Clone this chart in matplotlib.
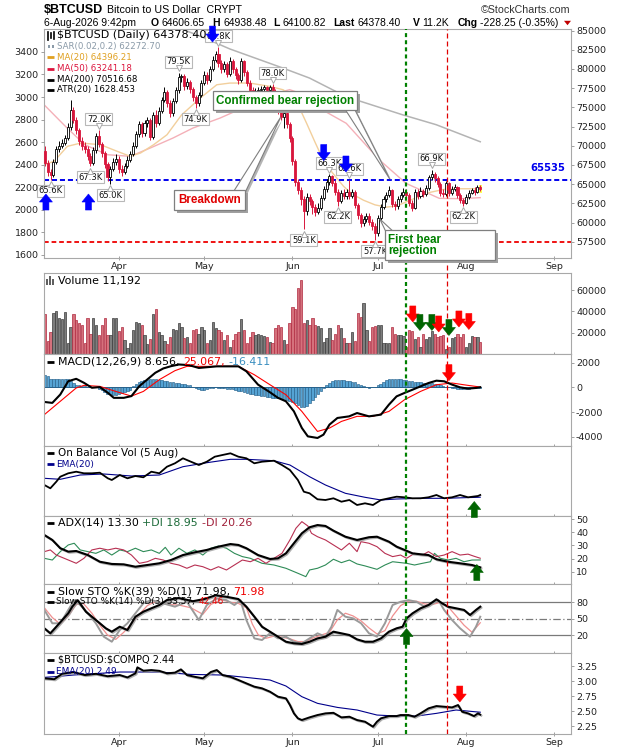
import numpy as np
import matplotlib
matplotlib.use("Agg")
import matplotlib.pyplot as plt
import matplotlib.ticker as mticker
import matplotlib.patheffects as pe
from matplotlib.patches import Polygon, Rectangle
from matplotlib.lines import Line2D
from matplotlib.transforms import offset_copy

plt.rcParams['axes.unicode_minus'] = False
plt.rcParams['font.family'] = 'DejaVu Sans'

W, H = 620, 750
LEFT, RIGHT = 43.5, 571.3
XLIM = (-0.5, 185.0)

# ---------------- data ----------------
# day 0 = 6 Mar, one candle per calendar day up to 6 Aug (day 153)
first_open = 69300
closes_k = [67.8, 66.6, 66.2, 67.9, 69.6, 70.0, 70.4, 71.0, 72.4, 74.6,
            73.4, 72.0, 70.6, 70.0, 69.6, 68.6, 67.8, 69.4, 71.3, 70.2,
            69.0, 67.6, 65.9, 67.0, 67.9, 68.3, 67.0, 66.6, 67.4, 68.2,
            68.9, 70.0, 71.5, 72.8, 71.6, 72.9, 73.3, 71.2, 74.0, 73.0,
            74.5, 76.0, 77.0, 75.6, 74.2, 75.8, 77.2, 78.9, 79.1, 77.8,
            78.3, 77.4, 76.3, 75.5, 76.6, 78.2, 79.2, 78.6, 80.0, 81.2,
            82.0, 80.8, 80.0, 80.6, 79.4, 81.0, 80.0, 79.2, 78.6, 81.0,
            79.6, 78.2, 77.3, 76.8, 77.0, 77.2, 77.4, 77.6, 77.2, 77.6,
            77.1, 76.0, 74.6, 73.8, 74.3, 72.8, 71.0, 68.0, 65.3, 64.2,
            63.0, 61.5, 63.3, 62.8, 62.0, 61.4, 61.9, 63.2, 64.3, 65.3,
            66.0, 65.2, 64.0, 62.8, 63.8, 63.4, 64.0, 63.5, 64.0, 62.3,
            61.0, 59.9, 60.4, 60.8, 60.1, 59.6, 58.6, 60.6, 62.0, 63.0,
            63.6, 64.2, 62.4, 62.1, 63.0, 63.6, 64.0, 63.6, 62.6, 61.9,
            64.0, 63.5, 64.1, 63.7, 64.5, 65.9, 66.3, 65.8, 65.0, 63.9,
            63.7, 65.1, 63.9, 64.4, 64.6, 63.6, 62.9, 62.6, 63.3, 63.9,
            64.2, 64.0, 64.60665, 64.3784]
highs_k = [70.0, 68.2, 67.0, 68.3, 70.0, 70.6, 70.9, 71.4, 72.9, 76.0,
           75.1, 73.8, 72.3, 71.1, 70.5, 70.0, 69.0, 69.8, 71.6, 72.0,
           70.5, 69.3, 67.9, 67.4, 68.4, 68.9, 68.6, 67.5, 67.8, 68.7,
           69.3, 70.5, 71.9, 73.2, 73.1, 73.3, 73.8, 73.6, 74.4, 74.6,
           75.0, 76.4, 77.6, 77.3, 75.9, 76.2, 77.7, 79.5, 79.4, 79.3,
           78.8, 78.6, 77.7, 76.6, 77.0, 78.6, 79.7, 79.6, 80.4, 81.7,
           82.4, 82.8, 81.2, 81.0, 80.9, 81.6, 81.3, 80.3, 79.5, 81.4,
           81.2, 79.9, 78.5, 77.6, 77.5, 77.7, 77.8, 77.9, 77.8, 77.9,
           78.0, 77.4, 76.3, 75.0, 74.8, 74.6, 73.1, 71.3, 68.3, 65.7,
           64.6, 63.4, 63.8, 63.7, 63.1, 62.4, 62.5, 63.6, 64.7, 65.7,
           66.3, 66.2, 65.5, 64.3, 64.2, 64.3, 64.4, 65.6, 64.4, 64.2,
           62.6, 61.3, 60.9, 61.3, 61.2, 60.5, 60.0, 61.0, 62.4, 63.4,
           64.0, 64.7, 64.4, 62.8, 63.4, 64.0, 64.5, 64.4, 63.9, 62.9,
           64.4, 64.3, 64.6, 64.4, 64.9, 66.2, 66.9, 66.6, 66.1, 65.3,
           64.3, 65.4, 65.3, 64.8, 65.0, 64.8, 63.9, 63.2, 63.7, 64.2,
           64.5, 64.6, 64.9, 64.93848]
lows_k = [67.4, 66.0, 65.6, 65.9, 67.6, 69.2, 69.7, 70.1, 70.7, 72.1,
          72.9, 71.5, 70.1, 69.5, 69.0, 68.1, 67.3, 67.5, 69.1, 69.8,
          68.5, 67.1, 65.4, 65.0, 66.7, 67.5, 66.5, 66.1, 66.3, 67.1,
          67.9, 68.6, 69.7, 71.2, 71.1, 71.3, 72.5, 70.8, 70.9, 72.5,
          72.7, 74.2, 75.7, 75.1, 73.8, 73.9, 75.5, 76.9, 78.3, 77.3,
          77.4, 76.9, 75.8, 74.9, 75.2, 76.3, 77.9, 78.1, 78.3, 79.7,
          80.9, 80.3, 79.5, 79.6, 78.9, 79.1, 79.5, 78.7, 78.0, 78.3,
          79.1, 77.8, 76.8, 76.3, 76.5, 76.7, 76.9, 77.0, 76.8, 76.9,
          76.6, 75.5, 74.1, 73.3, 72.3, 72.3, 70.5, 67.5, 64.8, 63.7,
          62.3, 59.1, 61.0, 62.3, 61.1, 60.9, 61.1, 61.6, 62.9, 64.0,
          64.9, 64.8, 63.6, 62.2, 62.5, 63.0, 63.1, 63.1, 63.2, 61.9,
          60.5, 59.4, 59.6, 60.1, 59.7, 59.0, 57.7, 58.3, 60.3, 61.7,
          62.7, 63.3, 62.0, 61.6, 61.8, 62.7, 63.3, 63.2, 62.2, 61.5,
          61.7, 63.0, 63.2, 63.3, 63.4, 64.2, 65.6, 65.3, 64.6, 63.5,
          63.3, 63.5, 63.5, 63.6, 64.1, 63.2, 62.5, 62.2, 62.4, 63.0,
          63.7, 63.6, 63.8, 64.10082]
volumes = [37270, 12200, 20500, 38100, 40300, 34100, 32800, 39700, 10000, 25700,
           37300, 31900, 28800, 27200, 10000, 34100, 18500, 33500, 27200, 17800,
           27500, 33500, 17800, 17800, 33500, 33500, 21600, 25700, 13000, 6000,
           10000, 22500, 30400, 28800, 27200, 17800, 9000, 14000, 37300, 42000,
           20500, 17800, 12200, 9000, 16000, 23400, 22500, 28800, 25700, 14700,
           16000, 10000, 22500, 23400, 18500, 25700, 22500, 10000, 13000, 29700,
           24100, 22500, 20500, 13000, 17800, 6300, 13000, 19200, 20500, 32800,
           22500, 10000, 16000, 20500, 17800, 18500, 17800, 16900, 16000, 11000,
           10000, 24800, 27200, 25700, 13000, 9000, 28800, 44300, 42000, 62300,
           69500, 28800, 31900, 27500, 33500, 27500, 26300, 24800, 11600, 14700,
           24100, 13000, 19200, 27200, 24100, 14700, 10000, 10000, 20500, 12200,
           38100, 35000, 47600, 22500, 12200, 25700, 26300, 27500, 26900, 10000,
           10000, 10600, 25700, 19200, 17800, 17800, 16900, 6300, 22500, 21600,
           14000, 16000, 6300, 18500, 14000, 16000, 21600, 18500, 16000, 16900,
           17800, 5000, 6300, 15000, 16000, 18500, 16000, 19200, 6300, 10000,
           16900, 16000, 16000, 11192]
macd_hist = [1020, 950, 700, 650, 680, 700, 700, 690, 650, 500, 350,
             200, 150, 100, 80, 60, 40, 20, 0,
             -100, -250, -400, -500, -560, -600, -580, -520, -450, -380, -300, -200,
             100, 250, 400, 500, 580, 620, 640, 650, 640, 600, 560, 520, 480, 440, 400, 360,
             320, 280, 250, 200, 150,
             50, -50, -150, -200, -180, -120, -60, -20, 0, -30, -60, -80, -100, -120, -150,
             -200, -260, -320, -380, -440, -500, -560, -600, -640, -680, -720, -760, -800,
             -840, -870, -900, -950, -1000, -1050, -1100, -1200, -1300, -1450, -1580, -1620,
             -1500, -1250, -1000, -800, -550, -300, -80,
             150, 350, 500, 600, 620, 600, 560, 520, 480, 450, 400, 300, 200,
             100, 30, -20, 0, 50,
             150, 300, 450, 580, 650, 680, 680, 660, 640, 600, 560, 520, 480, 440,
             420, 400, 380, 380, 360, 340, 300, 250, 200,
             120, 60, 0, -50, -80, -100, -120, -130, -130, -110, -80, -50, -30, -16]

macd_days = [-0.2, 2.6, 5.4, 8.2, 11.0, 13.7, 16.5, 19.3, 22.1, 24.2, 27.7, 30.4, 33.2,
             36.0, 38.8, 41.6, 44.4, 47.1, 50.6, 54.1, 60.4, 68.0, 70.8, 74.9, 79.1,
             81.9, 84.7, 87.5, 90.3, 92.4, 95.8, 97.9, 100.0, 102.8, 106.9, 109.7,
             113.9, 118.1, 120.9, 123.6, 126.4, 129.2, 132.0, 134.8, 137.6, 140.3,
             143.1, 145.9, 148.7, 151.5, 153.0]
macd_vals = [-1183, -1260, -580, 500, 690, 370, -35, 20, -440, -850, -850, -710, 100,
             640, 1180, 1530, 1720, 1850, 1800, 1570, 1700, 1700, 1300, 220, -400,
             -850, -1130, -1940, -3290, -3970, -4100, -3830, -3020, -2480, -2350, -2080,
             -2350, -2210, -1400, -730, -450, -190, 80, 350, 540, 490,
             220, 0, -105, -50, 8.656]
signal_days = [-0.2, 5.4, 11.0, 13.7, 19.3, 24.9, 30.4, 34.6, 40.2, 45.7, 49.9, 68.0,
               73.6, 79.1, 84.7, 90.3, 95.8, 100.0, 104.2, 109.7, 115.3, 120.9, 126.4,
               132.0, 137.6, 143.1, 148.7, 153.0]
signal_vals = [-2210, -1130, -50, 160, 80, -330, -710, -330, 620, 1350, 1700, 1700,
               1020, 210, -600, -1950, -3570, -3300, -2760, -2350, -2350, -1950, -1000,
               -330, 210, 350, 160, 25.067]

ma20_days = [-0.3, 3.2, 7.9, 12.6, 19.6, 25.4, 30, 33.6, 38.2, 42.9, 48, 54.6, 60.4, 65,
             72, 79, 83.7, 86, 89, 92, 95, 98, 101, 105, 108, 112, 116, 120, 124, 127,
             131, 135, 140, 146, 153]
ma20_vals = [67530, 67970, 69920, 70350, 70130, 69270, 68620, 69050, 70130, 71430, 74000,
             76210, 77940, 78160, 78160, 77730, 77290, 76700, 75300, 72900, 70400, 68000,
             66500, 64700, 63700, 62900, 62300, 62000, 62200, 62700, 63300, 63900, 64300,
             64400, 64396]
ma50_days = [-0.3, 7, 14, 22, 30, 37, 45, 52, 61.6, 67, 75, 81, 86, 90, 97.6, 105.9,
             117.6, 126.9, 138.6, 146, 153]
ma50_vals = [75340, 72600, 70130, 68830, 68620, 69700, 71000, 72300, 73610, 74500, 75800,
             76800, 77300, 76800, 74650, 72920, 68140, 65100, 63150, 63100, 63241]
ma200_days = [47, 55, 65, 83, 93, 105.9, 125.6, 137.5, 153]
ma200_vals = [85350, 84200, 82600, 80200, 78810, 76380, 74040, 72740, 70517]

obv_days = [-0.2, 1.9, 4.0, 5.4, 8.2, 11.0, 13.7, 16.5, 19.3, 22.1, 23.5, 26.3, 29.0,
            31.8, 34.6, 37.4, 40.2, 42.9, 45.7, 48.5, 51.3, 54.1, 56.9, 59.7, 62.4,
            65.2, 68.0, 70.8, 73.6, 76.3, 80.5, 83.3, 86.1, 88.9, 91.0, 93.0, 95.8,
            98.6, 101.4, 104.2, 107.0, 109.7, 112.5, 115.3, 118.1, 120.9, 123.6, 126.4,
            129.2, 132.0, 134.8, 137.6, 140.3, 143.1, 145.9, 148.7, 152.2, 153.0]
obv_vals = [31, 27.7, 34.3, 39.3, 42.7, 44.3, 42.7, 42.7, 43.3, 37.7, 36, 41, 37.7,
            40, 38.7, 44.3, 42.7, 49.3, 52.7, 57.7, 54.3, 51, 54.3, 59.3, 61,
            62.7, 59.3, 57.7, 52.7, 54.3, 55.3, 51, 46, 36, 24.3, 22.7, 16.7,
            16, 17.7, 14.3, 16, 11, 12.7, 11, 16, 17.7, 19.3, 18.7,
            17.7, 17.7, 18.7, 21, 17.7, 18.7, 21, 18.7, 20, 21]
obv_ema_days = [-0.2, 5.4, 12.4, 20.7, 30.4, 40.2, 48.5, 56.9, 65.2, 70.8, 80.5, 86.1,
                93.0, 98.6, 105.6, 112.5, 118.1, 123.6, 132.0, 140.3, 152.2, 153.0]
obv_ema_vals = [37.7, 36.7, 41, 42, 40, 41, 49.3, 53.3, 56.7, 56.7, 55.3, 51,
                39.3, 31, 22.7, 18.7, 16, 17, 17.7, 17.7, 18.7, 18.8]

adx_days = [-0.2, 2.6, 5.4, 8.2, 11, 15.1, 19.3, 23.5, 27.7, 31.8, 36, 40.2, 44.3, 48.5,
            52.7, 56.9, 61, 65.2, 68, 70.8, 74.9, 79.1, 81.9, 84.7, 87.5, 90.3, 93,
            95.8, 98.6, 101.4, 105.6, 109.7, 113.9, 116.7, 120.9, 123.6, 126.4, 129.2,
            132, 134.8, 137.6, 141.7, 145.9, 150.1, 153]
adx_vals = [38, 34.2, 27.9, 25.3, 25.8, 22.7, 17.6, 15.9, 15.6, 13.8, 15.1, 16.4, 18.9,
            22.7, 24.8, 26.6, 29.1, 31.1, 30.4, 27.9, 22.7, 19.7, 20.2, 24, 31.7, 39.3,
            43.9, 45.6, 44.9, 41.3, 36.7, 34.2, 36.3, 36.7, 32.9, 29.1, 26.6, 24,
            23.3, 22.7, 19.5, 17.6, 16.4, 15.1, 13.3]
pdi_days = [-0.2, 2.6, 5.4, 8.2, 10.3, 12.4, 15.1, 17.9, 20.7, 23.5, 26.3, 29, 31.8,
            34.6, 37.4, 40.2, 42.3, 44.3, 47.1, 49.9, 52.7, 55.5, 58.3, 61, 63.8, 66.6,
            69.4, 72.2, 76.3, 80.5, 84.7, 88.9, 91.7, 93, 95.8, 98.6, 101.4, 104.2, 107,
            109.7, 112.5, 116.7, 119.5, 122.2, 125, 127.1, 129.9, 132.7, 135.5, 136.9,
            139, 141.7, 144.5, 147.3, 150.1, 153]
pdi_vals = [20.2, 18.9, 25.3, 30.4, 31.7, 26.6, 25.3, 24, 26.6, 22.7, 26.6, 25.3, 27.9,
            25.3, 26.6, 24, 28.6, 22.7, 27.9, 24, 26.6, 22.7, 27.9, 29.6, 27.9, 24,
            21.5, 20.2, 16.4, 15.1, 12.6, 8.8, 6.2, 11.3, 12.6, 15.1, 19.5, 16.9, 18.9,
            15.9, 14.4, 11.8, 15.1, 17.6, 16.9, 16.4, 15.1, 16.4, 17.6, 24,
            20.2, 18.9, 20.2, 17.6, 18.9, 18.95]
mdi_days = [-0.2, 1.9, 4, 6.8, 11, 13.7, 16.5, 19.3, 22.1, 24.9, 27.7, 30.4, 33.2, 36,
            38.8, 41.6, 44.3, 47.1, 49.9, 52.7, 55.5, 58.3, 61, 63.8, 66.6, 69.4, 72.2,
            74.9, 77.7, 80.5, 83.3, 86.1, 88.2, 90.3, 92.4, 93.7, 95.8, 98.6, 101.4,
            104.2, 107, 109.7, 111.1, 113.9, 116.7, 119.5, 122.2, 125, 127.1, 129.9,
            132.7, 134.8, 137.6, 140.3, 143.1, 145.9, 148.7, 150.8, 153]
mdi_vals = [25.3, 26.6, 22.7, 20.2, 16.4, 20.2, 26.6, 27.9, 26.6, 27.9, 26.6, 22.7, 16.4,
            17.6, 20.2, 18.9, 16.4, 15.1, 12.6, 15.1, 13.8, 11.3, 13.8, 11.3, 15.1, 18.9,
            17.6, 20.2, 16.4, 20.2, 24, 34.2, 43.1, 48.2, 44.9, 39.3, 36.7, 34.2, 30.4,
            26.6, 31.7, 25.3, 32.9, 31.7, 29.1, 24, 21.5, 22.7, 20.2, 24,
            22.7, 25.3, 21.5, 22.7, 25.3, 22.7, 23.4, 21.8, 20.26]

sto39_days = [-0.2, 1.9, 4, 6.1, 8.2, 9.6, 11.5, 14.4, 16.5, 19.3, 21.4, 23.5, 26.3, 29,
              31.8, 34.6, 37.4, 40.2, 42.9, 47, 52, 56, 60, 64, 68, 70.8, 73.6, 76.3,
              79.1, 81.9, 84.7, 87.5, 90.3, 93, 95.8, 98.6, 101.4, 104.2, 107, 109.7,
              112.5, 115.3, 118.1, 120.9, 123.6, 125.7, 127.1, 129.2, 132, 134.8, 137.6,
              139.6, 141.7, 144.5, 147.3, 149.4, 151.5, 153]
sto39_vals = [32.3, 23.1, 35.2, 47.5, 59.8, 71.9, 84, 62.8, 53.6, 41.5, 32.3, 26.1, 35.2,
              29.2, 53.6, 62.8, 69, 75, 84.2, 88, 82, 86, 93, 90, 86, 71.9, 53.6, 35.2,
              26.1, 16.9, 7.7, 4.8, 3.6, 7.7, 13.8, 16.9, 26.1, 23.1, 20, 12,
              7.7, 7.7, 13.8, 26.1, 32.3, 35.2, 50.6, 59.8, 69, 75, 85.5,
              78.2, 71.9, 69, 66, 56.7, 66, 71.98]
sto14_days = [-0.2, 2.6, 5.4, 8.2, 10.3, 12.4, 15.1, 17.9, 20.7, 23.5, 26.3, 29, 31.8,
              34.6, 37.4, 41.6, 45.7, 49.9, 54.1, 56.9, 60.4, 63.8, 66.6, 68.7, 70.8,
              73.6, 76.3, 79.1, 81.9, 84.7, 87.5, 90.3, 93, 95.8, 98.6, 100.7, 102.8,
              105.6, 108.3, 111.1, 113.9, 116.7, 119.5, 122.2, 125, 127.8, 130.6, 133.4,
              136.2, 138.3, 140.3, 143.1, 145.9, 149.4, 151.5, 153]
sto14_vals = [66, 41.5, 41.5, 66, 84, 75, 59.8, 41.5, 16.9, 7.7, 29.2, 41.5, 59.8,
              78.2, 84.2, 78, 72, 81, 47.5, 75, 87, 84, 75, 84, 47.5,
              13.8, 10.8, 23.1, 13.8, 16.9, 7.7, 4.8, 13.8, 23.1, 16.9, 35.2, 66,
              53.6, 50.6, 41.5, 23.1, 16.9, 41.5, 75, 81, 84, 81, 72,
              78, 84, 66, 47.5, 32.3, 16.9, 35.2, 53.57]
sto14d_days = [-0.2, 2.6, 5.4, 8.2, 11, 13.5, 16.5, 19.3, 22, 24.9, 27.7, 30.4, 33.2, 36,
               39, 43, 47.1, 51.3, 55.5, 58.3, 62, 65.2, 68, 70.8, 72.9, 75, 77.7, 80.5,
               83.3, 86.1, 88.9, 91.7, 94.4, 97.2, 100, 102.8, 105.6, 108.3, 111.1,
               113.9, 116.7, 119.5, 122.2, 125, 127.8, 130.6, 133.4, 136.2, 139, 141.7,
               144.5, 147.3, 150.1, 153]
sto14d_vals = [70, 52, 40, 55, 76, 78, 60, 38, 20, 12, 25, 40, 58, 74,
               82, 76, 75, 70, 58, 76, 85, 80, 78, 70, 40, 20, 14, 18,
               16, 13, 8, 8, 15, 20, 25, 48, 60, 55, 46,
               33, 22, 28, 55, 74, 82, 82, 77, 76, 80, 72,
               55, 38, 25, 42.46]

ratio_days = [-0.2, 3.3, 6, 10, 14, 18, 22, 26.3, 29, 31.8, 32.5, 34.6, 37.4, 40.2, 42.9,
              45.7, 47.8, 49.9, 52.7, 55.5, 58.3, 60.4, 62.4, 65.2, 68, 70.8, 73.6, 76.3,
              79.1, 81.9, 84.7, 86.1, 87.5, 88.9, 90.3, 93, 95.8, 98.6, 101.4, 104.2, 107,
              109.7, 112.5, 115.3, 116.7, 118.1, 120.9, 123.6, 125, 127.8, 129.9, 132,
              134.8, 137.6, 140.3, 143.1, 145.2, 146.6, 148.7, 150.8, 152.2, 153]
ratio_vals = [3.045, 3.03, 3.12, 3.15, 3.10, 3.12, 3.08, 3.10, 3.06, 3.128, 3.228, 3.172,
              3.183, 3.17, 3.128, 3.14, 3.194, 3.10, 3.07, 3.045, 3.15, 3.183, 3.10, 3.07,
              3.017, 2.961, 2.906, 2.878, 2.822, 2.739, 2.711, 2.60, 2.461, 2.378, 2.35,
              2.394, 2.433, 2.461, 2.47, 2.394, 2.405, 2.35, 2.322, 2.239, 2.322, 2.378,
              2.416, 2.416, 2.433, 2.433, 2.405, 2.461, 2.544, 2.583, 2.572, 2.56, 2.60,
              2.489, 2.461, 2.416, 2.461, 2.44]
ratio_ema_days = [-0.2, 3.3, 10, 20, 26.3, 40.2, 51.3, 62.4, 70.8, 79.1, 84.7, 90.3, 95.8,
                  102.8, 109.7, 116.7, 123.6, 130.6, 137.6, 144.5, 153]
ratio_ema_vals = [3.061, 3.072, 3.10, 3.13, 3.15, 3.15, 3.11, 3.10, 3.06, 3.017, 2.917,
                  2.739, 2.628, 2.56, 2.517, 2.433, 2.416, 2.416, 2.461, 2.517, 2.48]

month_days = [26, 56, 87, 117, 148, 179]
month_names = ['Apr', 'May', 'Jun', 'Jul', 'Aug', 'Sep']
resistance = 65535
support = 57500
green_day, red_day = 126.8, 141.2
high_label_days = [19, 47, 61, 80, 100, 107, 136]
low_label_days = [2, 16, 23, 53, 91, 103, 116, 147]

RED = '#d8163c'

closes = np.array(closes_k) * 1000
highs = np.array(highs_k) * 1000
lows = np.array(lows_k) * 1000
opens = np.r_[first_open, closes[:-1]]
days = np.arange(len(closes))
up = closes >= opens

fig = plt.figure(figsize=(W / 100, H / 100), dpi=100)
fig.patch.set_facecolor('white')


def fig_xy(x, y):
    return x / W, 1 - y / H


def style_y(axis_obj):
    axis_obj.tick_params(axis='y', length=2.2, width=0.6, color='#909090', labelsize=6.8,
                         labelcolor='#222222', pad=1.2)


def panel(top, bottom, labels=False):
    ax = fig.add_axes([LEFT / W, 1 - bottom / H, (RIGHT - LEFT) / W, (bottom - top) / H])
    ax.set_xlim(*XLIM)
    for s in ax.spines.values():
        s.set_color('#a8a8a8')
        s.set_linewidth(0.8)
    ax.yaxis.tick_right()
    style_y(ax)
    ax.set_xticks(month_days)
    ax.tick_params(axis='x', length=2.2, width=0.6, direction='inout', color='#909090',
                   labelsize=6.8, labelcolor='#222222', pad=1.5)
    ax.set_xticklabels(month_names if labels else [])
    return ax


def px(ax, d, v):
    x, y = ax.transData.transform((d, v))
    return x, H - y


def poly(points, **kw):
    p = Polygon([fig_xy(x, y) for x, y in points], closed=True,
                transform=fig.transFigure, **kw)
    fig.add_artist(p)


def block_arrow(ax, d, v, up_dir, color):
    cx, cy = px(ax, d, v)
    w, L, sw, hl = 13, 16, 6, 8
    s = -1 if up_dir else 1
    tip = cy + s * L / 2
    base = tip - s * hl
    tail = cy - s * L / 2
    pts = [(cx, tip), (cx + w / 2, base), (cx + sw / 2, base), (cx + sw / 2, tail),
           (cx - sw / 2, tail), (cx - sw / 2, base), (cx - w / 2, base)]
    poly(pts, facecolor=color, edgecolor=color, lw=0.4, zorder=6)


renderer = fig.canvas.get_renderer()


def text_width(s, size, family, weight):
    t = fig.text(0, 0, s, fontsize=size, family=family, fontweight=weight)
    w = t.get_window_extent(renderer=renderer).width
    t.remove()
    return w


def rich_text(x, y, parts, size=6.8, family='DejaVu Sans'):
    sp = text_width('a a', size, family, 'normal') - text_width('aa', size, family, 'normal')
    for txt, col, wt in parts:
        core = txt.rstrip(' ')
        t = fig.text(x / W, 1 - y / H, core, color=col, fontsize=size, fontweight=wt,
                     family=family, va='center', ha='left', zorder=7)
        x += t.get_window_extent(renderer=renderer).width + sp * (len(txt) - len(core))


def legend_icon(y, color, x0=46.5, x1=53.5, lw=2.0):
    fig.add_artist(Line2D([x0 / W, x1 / W], [1 - y / H, 1 - y / H], color=color, lw=lw,
                          transform=fig.transFigure, solid_capstyle='butt'))


def shadow():
    return [pe.SimpleLineShadow(offset=(0.8, -0.8), shadow_color='#9a9a9a', alpha=0.8),
            pe.Normal()]


# ---------------- price panel ----------------
ax = panel(29, 258, labels=True)
axl = ax.twinx()
ax.yaxis.tick_right()
ax.yaxis.set_label_position('right')
style_y(ax)
ax.set_ylim(55380, 85200)
ax.set_yticks(range(57500, 85001, 2500))
ax.yaxis.set_major_formatter(mticker.FuncFormatter(lambda v, p: f"{v:.0f}"))
axl.yaxis.tick_left()
axl.set_ylim(1573, 3603)
axl.set_yticks(range(1600, 3401, 200))
style_y(axl)
for s in axl.spines.values():
    s.set_visible(False)

ax.plot(ma200_days, ma200_vals, color='#b4b4b4', lw=1.1, zorder=2)
ax.plot(ma50_days, ma50_vals, color='#f4b0b8', lw=1.0, zorder=2)
ax.plot(ma20_days, ma20_vals, color='#f2cf9c', lw=1.0, zorder=2)
ax.axhline(resistance, color='#0000ee', lw=1.4, ls=(0, (2.6, 1.5)), zorder=2.2)
ax.axhline(support, color='#ee0000', lw=1.3, ls=(0, (2.6, 1.6)), zorder=2.2)
ax.add_patch(Rectangle((days[-1] - 0.6, 63840), 1.2, 1080, facecolor='#ffff55',
                       edgecolor='none', zorder=2.4))

edge = np.where(up, 'black', RED)
fill = np.where(up, 'white', RED)
ax.vlines(days, lows, highs, colors=edge, lw=0.7, zorder=2.6)
ax.bar(days, np.maximum(np.abs(closes - opens), 60), bottom=np.minimum(opens, closes),
       width=0.72, color=fill, edgecolor=edge, linewidth=0.6, zorder=3)

ax.text(176.7, resistance + 1600, str(resistance), color='#0000ee', fontsize=7.2,
        fontweight='bold', ha='center', va='center')


def price_label(d, v, above):
    off = 11 if above else -11
    ax.annotate(f"{v / 1000:.1f}K", xy=(d, v), xytext=(0, off), textcoords='offset pixels',
                ha='center', va='center', fontsize=6.0, color='#111111', zorder=4,
                annotation_clip=False,
                bbox=dict(boxstyle='square,pad=0.18', fc='white', ec='#b8b8b8', lw=0.8))
    tr = offset_copy(ax.transData, fig=fig, x=0, y=(4.3 if above else -4.3), units='dots')
    ax.plot([d], [v], marker='v' if above else '^', ms=4.5, mfc='white', mec='#a8a8a8',
            mew=0.7, transform=tr, clip_on=False, zorder=4)


for d in high_label_days:
    price_label(d, highs[d], True)
for d in low_label_days:
    price_label(d, lows[d], False)

# ---------------- volume ----------------
axv = panel(273, 354)
axv.set_ylim(0, 76000)
axv.set_yticks([20000, 40000, 60000])
axv.bar(days, volumes, width=0.8, color=np.where(up, '#7d7d7d', '#d5717c'),
        edgecolor=np.where(up, '#3c3c3c', '#b02a40'), linewidth=0.5)

# ---------------- MACD ----------------
axm = panel(354, 446)
axm.set_ylim(-4750, 2700)
axm.set_yticks([-4000, -2000, 0, 2000])
axm.bar(days, macd_hist, width=0.85, color='#55a3d4', edgecolor='#27628c', linewidth=0.45)
axm.hlines(0, days[0] - 0.4, days[-1] + 0.4, color='#27628c', lw=0.7)
axm.plot(signal_days, signal_vals, color='#ff0000', lw=0.8)
axm.plot(macd_days, macd_vals, color='black', lw=1.5)

# ---------------- OBV ----------------
axo = panel(446, 516)
axo.set_ylim(0, 70)
axo.set_yticks([])
axo.plot(obv_ema_days, obv_ema_vals, color='#00008b', lw=0.8)
axo.plot(obv_days, obv_vals, color='black', lw=1.3)

# ---------------- ADX ----------------
axa = panel(516, 584)
axa.set_ylim(0.6, 52.5)
axa.set_yticks([10, 20, 30, 40, 50])
axa.plot(pdi_days, pdi_vals, color='#2e8b57', lw=0.8)
axa.plot(mdi_days, mdi_vals, color='#b83052', lw=0.8)
axa.plot(adx_days, adx_vals, color='black', lw=1.5, path_effects=shadow())

# ---------------- stochastics ----------------
axs = panel(584, 653)
axs.set_ylim(-13, 113.6)
axs.set_yticks([20, 50, 80])
axs.axhline(80, color='#7a7a7a', lw=0.9)
axs.axhline(20, color='#7a7a7a', lw=0.9)
axs.axhline(50, color='#7a7a7a', lw=0.9, ls=(0, (6, 2, 1, 2)))
axs.plot(sto14d_days, sto14d_vals, color='#f09090', lw=0.9)
axs.plot(sto14_days, sto14_vals, color='#9a9a9a', lw=1.4)
axs.plot(sto39_days, sto39_vals, color='black', lw=1.5, path_effects=shadow())

# ---------------- BTC:COMPQ ----------------
axc = panel(653, 734, labels=True)
axc.set_ylim(2.117, 3.467)
axc.set_yticks([2.25, 2.5, 2.75, 3.0, 3.25])
axc.yaxis.set_major_formatter(mticker.FuncFormatter(lambda v, p: f"{v:.2f}"))
axc.plot(ratio_ema_days, ratio_ema_vals, color='#00008b', lw=0.8)
axc.plot(ratio_days, ratio_vals, color='black', lw=1.4, path_effects=shadow())

# ---------------- vertical marker lines ----------------
ov = fig.add_axes([LEFT / W, 1 - 734 / H, (RIGHT - LEFT) / W, (734 - 29) / H])
ov.set_xlim(*XLIM)
ov.set_ylim(0, 1)
ov.axis('off')
ov.patch.set_visible(False)
ov.axvline(green_day, color='#008000', lw=1.6, ls=(0, (1.8, 1.4)))
ov.axvline(red_day, color='#e00000', lw=0.9, ls=(0, (4, 2.4)))

# ---------------- arrows ----------------
for d, v in [(0.35, 62670), (15.3, 62670)]:
    block_arrow(ax, d, v, True, '#0000ff')
for d, v in [(58.9, 84540), (98.0, 69115), (105.8, 67620)]:
    block_arrow(ax, d, v, False, '#0000ff')
for d, v, c in [(129.3, 37560, '#ff0000'), (131.8, 29580, '#006400'),
                (136.0, 29580, '#006400'), (138.4, 28170, '#ff0000'),
                (142.0, 24880, '#006400'), (145.5, 32860, '#ff0000'),
                (149.0, 30520, '#ff0000')]:
    block_arrow(axv, d, v, False, c)
block_arrow(axm, 142.0, 1190, False, '#ff0000')
block_arrow(axo, 150.9, 6.5, True, '#006400')
block_arrow(axa, 151.8, 9.4, True, '#006400')
block_arrow(axs, 127.1, 17.2, True, '#006400')
block_arrow(axc, 145.8, 2.783, False, '#ff0000')


# ---------------- callouts ----------------
def callout(x0, y0, x1, y1, base, apex):
    bx = [(x + 2, y + 2) for x, y in base + [apex]]
    poly(bx, facecolor='#b4b4b4', edgecolor='none', zorder=4)
    fig.add_artist(Rectangle(fig_xy(x0 + 3, y1 + 3), (x1 - x0) / W, (y1 - y0) / H,
                             transform=fig.transFigure, facecolor='#a0a0a0',
                             edgecolor='none', zorder=4.2))
    poly(base + [apex], facecolor='white', edgecolor='#7f7f7f', lw=0.8, zorder=4.5)
    fig.add_artist(Rectangle(fig_xy(x0, y1), (x1 - x0) / W, (y1 - y0) / H,
                             transform=fig.transFigure, facecolor='white',
                             edgecolor='#7f7f7f', lw=0.9, zorder=5))


ANN = 'Liberation Sans'
callout(212.7, 91.3, 356.7, 109.7, [(343, 106), (353, 106)], px(ax, 121.2, 65665))
fig.text(*fig_xy(284.7, 100.8), 'Confirmed bear rejection', color='#008000', fontsize=8.4,
         fontweight='bold', family=ANN, ha='center', va='center', zorder=7)
callout(174, 190, 244.5, 210, [(232, 194), (243, 197)], px(ax, 82.9, 73740))
fig.text(*fig_xy(209.2, 200.3), 'Breakdown', color='#e00000', fontsize=8.4,
         fontweight='bold', family=ANN, ha='center', va='center', zorder=7)
callout(385, 229.7, 495, 260, [(387, 234), (396, 234)], px(ax, 117.7, 60457))
fig.text(*fig_xy(388, 240.0), 'First bear', color='#008000', fontsize=8.4,
         fontweight='bold', family=ANN, ha='left', va='center', zorder=7)
fig.text(*fig_xy(388, 251.5), 'rejection', color='#008000', fontsize=8.4,
         fontweight='bold', family=ANN, ha='left', va='center', zorder=7)

# ---------------- header ----------------
fig.text(*fig_xy(43.5, 9.8), '$BTCUSD', fontsize=9.0, fontweight='bold', family=ANN,
         va='center', ha='left')
fig.text(*fig_xy(107, 9.8), 'Bitcoin to US Dollar  CRYPT', fontsize=7.7, family=ANN,
         va='center', ha='left')
fig.text(*fig_xy(570, 9.8), '\u00a9StockCharts.com', fontsize=7.7, family=ANN,
         va='center', ha='right', color='#333333')
HY = 22.9
rich_text(43.5, HY, [('6-Aug-2026 9:42pm', 'black', 'normal')], 7.5, ANN)
rich_text(150.4, HY, [('O ', 'black', 'bold'), (f'{opens[-1]:.2f}', 'black', 'normal')], 7.5, ANN)
rich_text(212.6, HY, [('H ', 'black', 'bold'), (f'{highs[-1]:.2f}', 'black', 'normal')], 7.5, ANN)
rich_text(273.2, HY, [('L ', 'black', 'bold'), (f'{lows[-1]:.2f}', 'black', 'normal')], 7.5, ANN)
rich_text(333.7, HY, [('Last ', 'black', 'bold'), (f'{closes[-1]:.2f}', 'black', 'normal')], 7.5, ANN)
rich_text(412.9, HY, [('V ', 'black', 'bold'), (f'{volumes[-1] / 1000:.1f}K', 'black', 'normal')], 7.5, ANN)
chg = closes[-1] - opens[-1]
rich_text(457.3, HY, [('Chg ', 'black', 'bold'),
                      (f'{chg:.2f} ({chg / opens[-1] * 100:.2f}%)', 'black', 'normal')], 7.5, ANN)
poly([(564, 20.8), (571, 20.8), (567.5, 25.2)], facecolor='#c00000', edgecolor='none', zorder=6)

# ---------------- panel legends ----------------
# candle icon
for xi, (a, b) in zip([47.5, 50.5, 53.5], [(31.5, 39.5), (33, 38), (32, 39)]):
    fig.add_artist(Line2D([xi / W, xi / W], [1 - a / H, 1 - b / H], color='black', lw=1.2,
                          transform=fig.transFigure))
rich_text(57, 35.5, [('$BTCUSD (Daily) 64378.40', 'black', 'normal')], 8.0)
for xi in [47.5, 51.5]:
    fig.add_artist(Rectangle(fig_xy(xi, 47.8), 2.4 / W, 2.4 / H, transform=fig.transFigure,
                             facecolor='#8a9aa8', edgecolor='none'))
rich_text(57, 46.3, [('SAR(0.02,0.2) 62272.70', '#8a9aa8', 'normal')], 6.2)
legend_icon(57.3, '#e0a020')
rich_text(57, 57.3, [('MA(20) 64396.21', '#e0a020', 'normal')], 6.2)
legend_icon(68.7, '#dc143c')
rich_text(57, 68.7, [('MA(50) 63241.18', '#dc143c', 'normal')], 6.2)
legend_icon(79.7, 'black')
rich_text(57, 79.7, [('MA(200) 70516.68', 'black', 'normal')], 6.2)
legend_icon(89.9, 'black')
rich_text(57, 89.9, [('ATR(20) 1628.453', 'black', 'normal')], 6.2)

for xi, hgt in zip([47.2, 50.0, 52.8], [5, 8, 6]):
    fig.add_artist(Rectangle(fig_xy(xi - 1, 284.5), 2.0 / W, hgt / H, transform=fig.transFigure,
                             facecolor='#606060', edgecolor='none'))
rich_text(58, 280.7, [('Volume 11,192', 'black', 'normal')], 7.9)

legend_icon(361.7, 'black')
rich_text(58, 361.7, [('MACD(12,26,9) 8.656, ', 'black', 'normal'),
                      ('25.067, ', '#ee0000', 'normal'),
                      ('-16.411', '#3a8fc0', 'normal')], 7.9)
legend_icon(453.3, 'black')
rich_text(58, 453.3, [('On Balance Vol (5 Aug)', 'black', 'normal')], 7.5)
legend_icon(464.3, '#00008b')
rich_text(56.5, 464.3, [('EMA(20)', '#00008b', 'normal')], 6.5)
legend_icon(522.7, 'black')
rich_text(58, 522.7, [('ADX(14) 13.30 ', 'black', 'normal'),
                      ('+DI 18.95 ', '#1d6b3a', 'normal'),
                      ('-DI 20.26', '#a0203a', 'normal')], 7.9)
legend_icon(591.7, 'black')
rich_text(58, 591.7, [('Slow STO %K(39) %D(1) 71.98, ', 'black', 'normal'),
                      ('71.98', '#ee0000', 'normal')], 7.9)
legend_icon(601.9, 'black')
rich_text(56.5, 601.9, [('Slow STO %K(14) %D(3) 53.57, ', 'black', 'normal'),
                        ('42.46', '#ee0000', 'normal')], 6.4)
legend_icon(660.0, 'black')
rich_text(58, 660.0, [(r'\$BTCUSD:\$COMPQ 2.44', 'black', 'normal')], 7.0)
legend_icon(671.7, '#00008b')
rich_text(56.5, 671.7, [('EMA(20) 2.49', '#00008b', 'normal')], 6.5)

fig.savefig('out.png', dpi=100)
